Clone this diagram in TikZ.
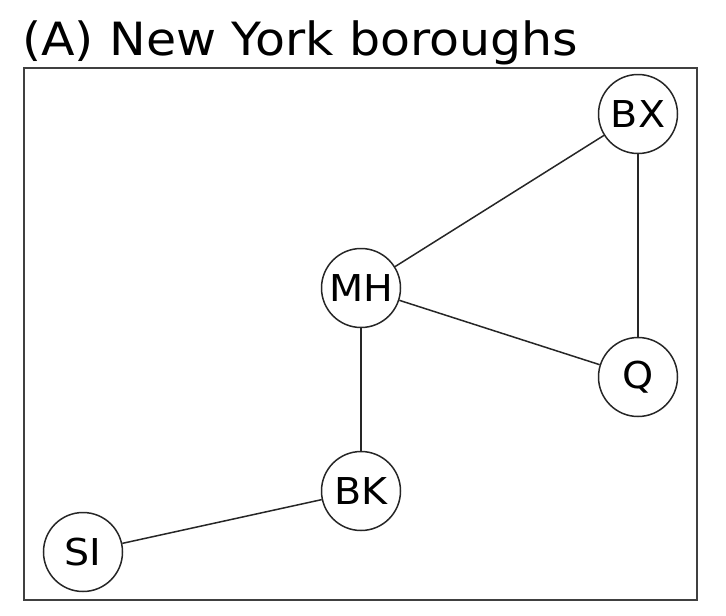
\documentclass[tikz,border=0pt]{standalone}
\usepackage{fontspec}
\setmainfont{DejaVu Sans}[FakeStretch=1.07]
\begin{document}
\begin{tikzpicture}[x=1pt,y=-1pt,
  boro/.style={circle,draw=black!85,line width=1.5pt,fill=white,minimum size=79pt,inner sep=0pt,font=\fontsize{37}{40}\selectfont},
  edge/.style={draw=black!85,line width=1.5pt}]
\useasboundingbox (0,0) rectangle (726,616);
\node[anchor=base west,inner sep=0pt,font=\fontsize{45.8}{50}\selectfont] (title) at (22,55) {(A) New York boroughs};
\draw[draw=black!75,line width=1.5pt] (24,68) rectangle (697,600);
\node[boro] (BX) at (638,114) {BX};
\node[boro] (MH) at (361,288) {MH};
\node[boro] (Q) at (638,377) {Q};
\node[boro] (BK) at (361,491) {BK};
\node[boro] (SI) at (83,552) {SI};
\draw[edge] (MH) -- (BX);
\draw[edge] (BX) -- (Q);
\draw[edge] (MH) -- (Q);
\draw[edge] (MH) -- (BK);
\draw[edge] (BK) -- (SI);
\end{tikzpicture}
\end{document}
